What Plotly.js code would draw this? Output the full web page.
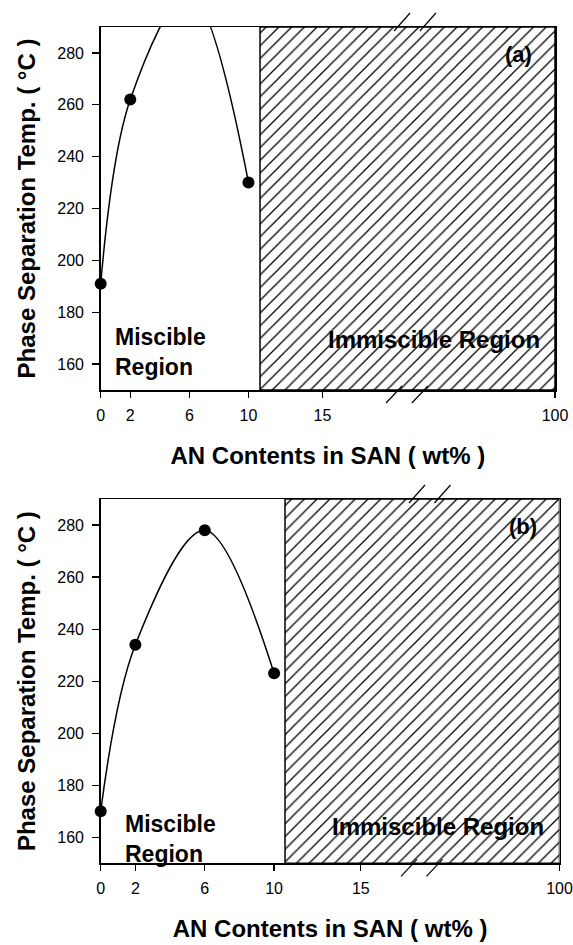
<!DOCTYPE html>
<html><head><meta charset="utf-8">
<script src="https://cdn.plot.ly/plotly-3.0.1.min.js"></script>
<style>html,body{margin:0;padding:0;background:#fff}#chart{width:573px;height:945px}</style>
</head><body><div id="chart"></div>
<script>
// ---- data ----
// Panel (a)
const anA = [0, 2, 6, 10];
const tempA = [191, 262, 303, 230];   // value at 6 wt% lies above the plotted range
// Panel (b)
const anB = [0, 2, 6, 10];
const tempB = [170, 234, 278, 223];
// broken x axis: "100" is drawn after the break
const tickText = ['0', '2', '6', '10', '15', '100'];
const tickPosA = [0, 2, 6, 10, 15, 30.74];
const tickPosB = [0, 2, 6, 10, 15, 26.46];
const immiscibleStartA = 10.78;
const immiscibleStartB = 10.63;
const breakPosA = [20.12, 21.87];
const breakPosB = [18.01, 19.48];
const yTicks = [160, 180, 200, 220, 240, 260, 280];
const yRange = [150, 290];

// ---- layout helpers ----
const FONT = 'Liberation Sans, Arial, sans-serif';
const domXA = [100.7 / 573, 555 / 573];
const domXB = [100.7 / 573, 559.5 / 573];
const domYA = [1 - 390 / 945, 1 - 27 / 945];
const domYB = [1 - 863.3 / 945, 1 - 499 / 945];

function visible(arr) { return arr.map(v => (v >= yRange[0] && v <= yRange[1]) ? v : null); }

function hatch(start, end, xa, ya) {
  return {
    x: [start, end, end, start, start],
    y: [yRange[0], yRange[0], yRange[1], yRange[1], yRange[0]],
    xaxis: xa, yaxis: ya, mode: 'lines', fill: 'toself',
    fillcolor: 'white',
    fillpattern: {shape: '/', size: 9, solidity: 0.14, fgcolor: '#000', bgcolor: '#fff'},
    line: {color: '#000', width: 1.5}, hoverinfo: 'skip', showlegend: false
  };
}

const traces = [
  hatch(immiscibleStartA, tickPosA[5], 'x', 'y'),
  hatch(immiscibleStartB, tickPosB[5], 'x2', 'y2'),
  {x: anA, y: tempA, xaxis: 'x', yaxis: 'y', mode: 'lines',
   line: {shape: 'spline', smoothing: 1, color: '#000', width: 1.5}, showlegend: false},
  {x: anA, y: visible(tempA), xaxis: 'x', yaxis: 'y', mode: 'markers', cliponaxis: false,
   marker: {size: 12, color: '#000'}, showlegend: false},
  {x: anB, y: tempB, xaxis: 'x2', yaxis: 'y2', mode: 'lines',
   line: {shape: 'spline', smoothing: 1, color: '#000', width: 1.5}, showlegend: false},
  {x: anB, y: visible(tempB), xaxis: 'x2', yaxis: 'y2', mode: 'markers', cliponaxis: false,
   marker: {size: 12, color: '#000'}, showlegend: false}
];

function xAxis(dom, tickPos, anchor) {
  return {
    domain: dom, anchor: anchor, range: [0, tickPos[tickPos.length - 1]],
    tickmode: 'array', tickvals: tickPos, ticktext: tickText,
    ticks: 'outside', ticklen: 6, tickwidth: 1.2, tickcolor: '#000', ticklabelstandoff: 4,
    showline: true, linecolor: '#000', linewidth: 1.5, mirror: true,
    showgrid: false, zeroline: false,
    tickfont: {family: FONT, size: 16, color: '#000'},
    title: {text: '<b>AN Contents in SAN ( wt% )</b>', font: {family: FONT, size: 24, color: '#000'}, standoff: 24}
  };
}
function yAxis(dom, anchor) {
  return {
    domain: dom, anchor: anchor, range: yRange,
    tickmode: 'array', tickvals: yTicks,
    ticks: 'outside', ticklen: 7, tickwidth: 1.2, tickcolor: '#000', ticklabelstandoff: 5,
    showline: true, linecolor: '#000', linewidth: 1.5, mirror: true,
    showgrid: false, zeroline: false,
    tickfont: {family: FONT, size: 16, color: '#000'},
    title: {text: '<b>Phase Separation Temp. ( °C )</b>', font: {family: FONT, size: 24, color: '#000'}, standoff: 15}
  };
}

function breakMarks(pos, xref, yTop, yBot) {
  const out = [];
  pos.forEach(p => {
    out.push({type: 'line', xref: xref, yref: 'paper', xsizemode: 'pixel', ysizemode: 'pixel',
      xanchor: p, yanchor: yTop, x0: -4, x1: 12, y0: -4, y1: 14, line: {color: '#000', width: 1.2}});
    out.push({type: 'line', xref: xref, yref: 'paper', xsizemode: 'pixel', ysizemode: 'pixel',
      xanchor: p, yanchor: yBot, x0: -12, x1: 4, y0: -13, y1: 4, line: {color: '#000', width: 1.2}});
  });
  return out;
}

const annFont = {family: FONT, size: 23, color: '#000'};
const bigFont = {family: FONT, size: 24, color: '#000'};
const layout = {
  width: 573, height: 945,
  margin: {l: 0, r: 0, t: 0, b: 0},
  paper_bgcolor: '#fff', plot_bgcolor: '#fff',
  showlegend: false,
  xaxis: xAxis(domXA, tickPosA, 'y'),
  yaxis: yAxis(domYA, 'x'),
  xaxis2: xAxis(domXB, tickPosB, 'y2'),
  yaxis2: yAxis(domYB, 'x2'),
  shapes: breakMarks(breakPosA, 'x', domYA[1], domYA[0]).concat(breakMarks(breakPosB, 'x2', domYB[1], domYB[0])),
  annotations: [
    {xref: 'x', yref: 'y', x: 0.83, y: 164.6, xanchor: 'left', yanchor: 'middle', align: 'left',
     text: '<b>Miscible<br>Region</b>', showarrow: false, font: annFont},
    {xref: 'x2', yref: 'y2', x: 1.29, y: 159.3, xanchor: 'left', yanchor: 'middle', align: 'left',
     text: '<b>Miscible<br>Region</b>', showarrow: false, font: annFont},
    {xref: 'x', yref: 'y', x: 22.52, y: 169.3, xanchor: 'center', yanchor: 'middle',
     text: '<b>Immiscible Region</b>', showarrow: false, font: bigFont},
    {xref: 'x2', yref: 'y2', x: 19.48, y: 164, xanchor: 'center', yanchor: 'middle',
     text: '<b>Immiscible Region</b>', showarrow: false, font: bigFont},
    {xref: 'x', yref: 'y', x: 28.3, y: 279.3, xanchor: 'center', yanchor: 'middle',
     text: '<b>(a)</b>', showarrow: false, font: {family: FONT, size: 22, color: '#000'}},
    {xref: 'x2', yref: 'y2', x: 24.35, y: 279.3, xanchor: 'center', yanchor: 'middle',
     text: '<b>(b)</b>', showarrow: false, font: {family: FONT, size: 22, color: '#000'}}
  ]
};

Plotly.newPlot('chart', traces, layout, {displayModeBar: false, staticPlot: true});
</script>
</body></html>
